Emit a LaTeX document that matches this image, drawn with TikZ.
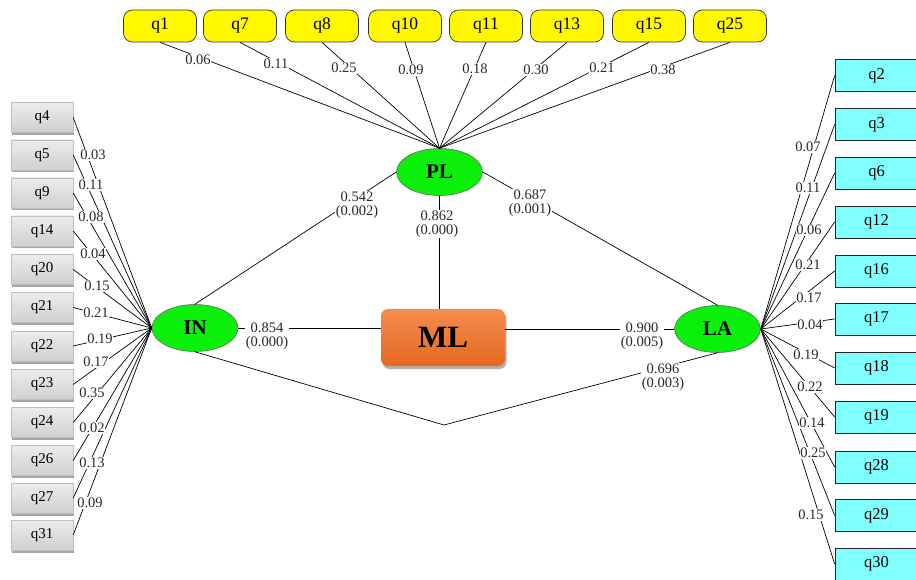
\documentclass[tikz,border=0pt]{standalone}
\usepackage{fontspec}
\setmainfont{Liberation Serif}
\usetikzlibrary{shapes.geometric,shadows}
\definecolor{itemyellow}{RGB}{255,248,0}
\definecolor{itemcyan}{RGB}{128,255,255}
\definecolor{latgreen}{RGB}{10,240,10}
\definecolor{mltop}{RGB}{243,140,78}
\definecolor{mlbottom}{RGB}{230,104,32}
\definecolor{greytop}{RGB}{236,236,236}
\definecolor{greybottom}{RGB}{208,208,208}
\definecolor{edgetext}{RGB}{40,40,50}
\begin{document}
\begin{tikzpicture}[x=1pt,y=-1pt,
  link/.style={line width=0.7pt,black},
  topbox/.style={draw=black!80,line width=0.7pt,fill=itemyellow,rounded corners=9pt,
    minimum width=73pt,minimum height=32pt,inner sep=0pt,font=\fontsize{17.5}{17.5}\selectfont},
  leftbox/.style={draw=black!25,line width=0.4pt,top color=greytop,bottom color=greybottom,
    minimum width=62pt,minimum height=30pt,inner sep=0pt,font=\fontsize{15}{15}\selectfont,
    drop shadow={shadow xshift=1pt,shadow yshift=-2.5pt,fill=black,opacity=0.35}},
  rightbox/.style={draw=black!85,line width=0.7pt,fill=itemcyan,
    minimum width=83pt,minimum height=32pt,inner sep=0pt,font=\fontsize{16.5}{16.5}\selectfont},
  latent/.style={ellipse,draw=black!60,line width=0.6pt,fill=latgreen,
    minimum width=86pt,minimum height=47pt,inner sep=0pt,font=\bfseries\fontsize{21}{21}\selectfont},
  core/.style={rounded corners=7pt,top color=mltop,bottom color=mlbottom,
    minimum width=124pt,minimum height=57pt,inner sep=0pt,font=\bfseries\fontsize{31}{31}\selectfont,
    drop shadow={shadow xshift=1.5pt,shadow yshift=-3pt,fill=black,opacity=0.3}},
  lbl/.style={fill=white,inner sep=0.6pt,text=edgetext,font=\fontsize{14.5}{14.5}\selectfont},
  pair/.style={fill=white,inner sep=0.6pt,text=edgetext,align=center,font=\fontsize{14.5}{14}\selectfont}
]
\useasboundingbox (0,0) rectangle (916,580);
\fill[white] (0,0) rectangle (916,580);

% latent variables and the central construct
\node[latent] (PL) at (439.5,172) {PL};
\node[latent] (IN) at (195,328) {IN};
\node[latent] (LA) at (717.5,329) {LA};
\node[core] (ML) at (443,337.5) {ML};
\coordinate (V) at (444,425);

% structural paths
\draw[link] (PL.south) -- (PL.south |- ML.north);
\draw[link] (IN.east) -- (ML.west |- IN.east);
\draw[link] (ML.east |- LA.west) -- (LA.west);
\draw[link] (PL.west) -- (IN.north);
\draw[link] (PL.east) -- (LA.north);
\draw[link] (IN.south) -- (V) -- (LA.south);

% PL indicators
\foreach \n/\x in {q1/160,q7/240,q8/322,q10/405,q11/486,q13/567,q15/649,q25/730}{
  \node[topbox] (\n) at (\x,26) {\n};
  \draw[link] (\n.south) -- (PL.north);
}
% IN indicators
\foreach \n/\y in {q4/117.5,q5/155,q9/193,q14/231,q20/269.5,q21/307.5,q22/346,q23/384.5,q24/422.5,q26/460.5,q27/498,q31/535}{
  \node[leftbox] (\n) at (42,\y) {\n};
  \draw[link] (\n.east) -- (IN.west);
}
% LA indicators
\foreach \n/\y in {q2/75.5,q3/124.5,q6/173,q12/222,q16/271,q17/319,q18/368,q19/417,q28/467,q29/515.5,q30/564}{
  \node[rightbox] (\n) at (876.5,\y) {\n};
  \draw[link] (LA.east) -- (\n.west);
}

% loadings
\foreach \n/\x/\y/\v in {a1/198/60/0.06,a2/276/64/0.11,a3/344/68/0.25,a4/411/70/0.09,
  a5/475/69/0.18,a6/536/70/0.30,a7/602/68/0.21,a8/663/70/0.38,
  b1/93/155/0.03,b2/91/185/0.11,b3/91/217/0.08,b4/93/254/0.04,b5/97/286/0.15,b6/96/313/0.21,
  b7/100/339/0.19,b8/96/362/0.17,b9/92/393/0.35,b10/92/428/0.02,b11/92/463/0.13,b12/90/503/0.09,
  c1/808/147/0.07,c2/808/188/0.11,c3/809/230/0.06,c4/808/265/0.21,c5/809/298/0.17,c6/810/325/0.04,
  c7/806/355/0.19,c8/810/387/0.22,c9/812/423/0.14,c10/813/453/0.25,c11/811/515/0.15}{
  \node[lbl] (\n) at (\x,\y) {\v};
}

% path coefficients with p-values
\node[pair] (pPLIN) at (357,205) {0.542\\(0.002)};
\node[pair] (pPLML) at (437,224) {0.862\\(0.000)};
\node[pair] (pPLLA) at (530,203) {0.687\\(0.001)};
\node[pair] (pINML) at (267,336) {0.854\\(0.000)};
\node[pair] (pMLLA) at (642,336) {0.900\\(0.005)};
\node[pair] (pINLA) at (663,377) {0.696\\(0.003)};
\end{tikzpicture}
\end{document}
